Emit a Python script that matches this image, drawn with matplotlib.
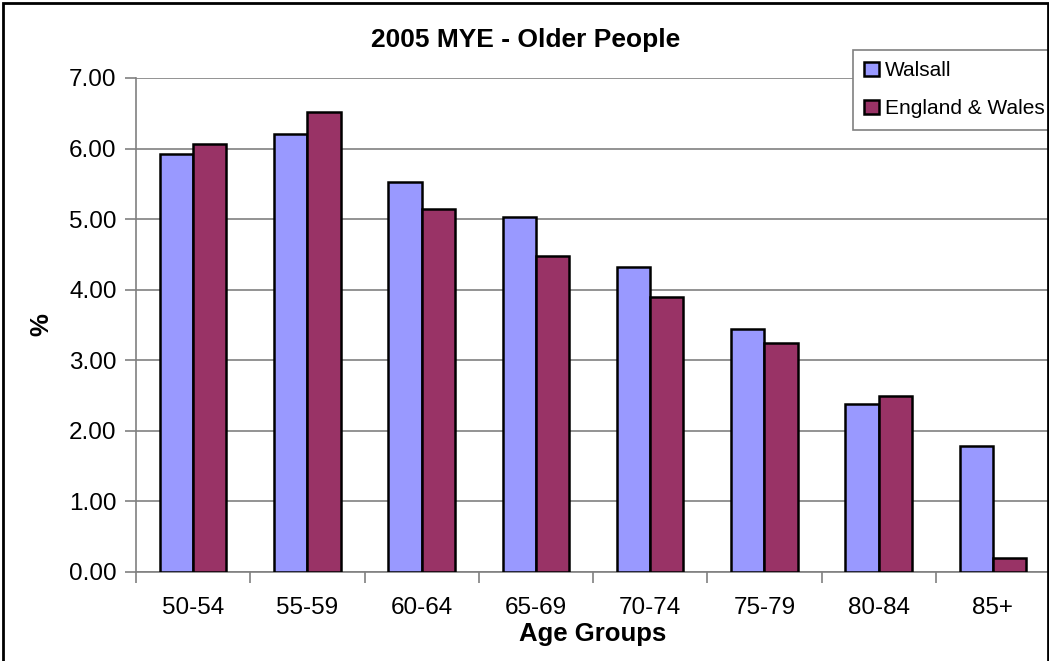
import numpy as np
import matplotlib
matplotlib.use("Agg")
import matplotlib.pyplot as plt
from matplotlib.patches import Rectangle

plt.rcParams['font.family'] = ['Liberation Sans', 'DejaVu Sans']

age_groups = ['50-54', '55-59', '60-64', '65-69', '70-74', '75-79', '80-84', '85+']
walsall = [5.92, 6.21, 5.52, 5.03, 4.32, 3.44, 2.38, 1.79]
england_wales = [6.06, 6.52, 5.14, 4.48, 3.90, 3.24, 2.49, 0.20]

fig = plt.figure(figsize=(10.49, 6.61), dpi=100)
ax = fig.add_axes([136/1049, 1-572/661, 914/1049, (572-78)/661])

x = np.arange(len(age_groups))
w = 0.29
ax.bar(x - w/2, walsall, w, color='#9999FF', edgecolor='black', linewidth=1.8,
       label='Walsall', zorder=3)
ax.bar(x + w/2, england_wales, w, color='#993366', edgecolor='black', linewidth=1.8,
       label='England & Wales', zorder=3)

ax.set_xlim(-0.5, len(age_groups) - 0.5)
ax.set_ylim(0, 7)
ax.set_yticks(np.arange(0, 8, 1))
ax.set_yticklabels(['%.2f' % v for v in np.arange(0, 8, 1)], fontsize=17.5)
ax.yaxis.grid(True, color='#808080', linewidth=1.2, zorder=0)

# category labels in the middle, tick marks between groups
ax.set_xticks(x)
ax.set_xticklabels(age_groups, fontsize=17.5)
ax.tick_params(axis='x', length=0, pad=18)
ax.set_xticks(np.arange(-0.5, len(age_groups) + 0.5, 1), minor=True)
ax.tick_params(axis='x', which='minor', length=8, color='#808080', width=1.2)
ax.tick_params(axis='y', length=8, color='#808080', width=1.2, pad=6)

for s in ['top', 'right']:
    ax.spines[s].set_visible(False)
for s in ['left', 'bottom']:
    ax.spines[s].set_color('#808080')
    ax.spines[s].set_linewidth(1.2)

ax.set_xlabel('Age Groups', fontsize=18.5, fontweight='bold', labelpad=2)
ax.set_ylabel('%', fontsize=18.5, fontweight='bold')
ax.yaxis.set_label_coords((53 - 136) / 914, (572 - 325) / 494)
fig.text(526/1049, 1-40/661, '2005 MYE - Older People', fontsize=19,
         fontweight='bold', ha='center', va='center')

leg = ax.legend(loc='upper left', bbox_to_anchor=(853/1049, 1-50/661),
                bbox_transform=fig.transFigure, fontsize=15, fancybox=False,
                edgecolor='#808080', framealpha=1, borderaxespad=0,
                handlelength=0.7, handleheight=0.7, handletextpad=0.3,
                labelspacing=0.9, borderpad=0.55)
leg.get_frame().set_linewidth(1.2)

# outer chart border
fig.patches.append(Rectangle((3/1049, -0.1), 1045/1049, 1.1 - 3/661,
                             transform=fig.transFigure, fill=False,
                             edgecolor='black', linewidth=2))

fig.savefig('out.png', dpi=100)
